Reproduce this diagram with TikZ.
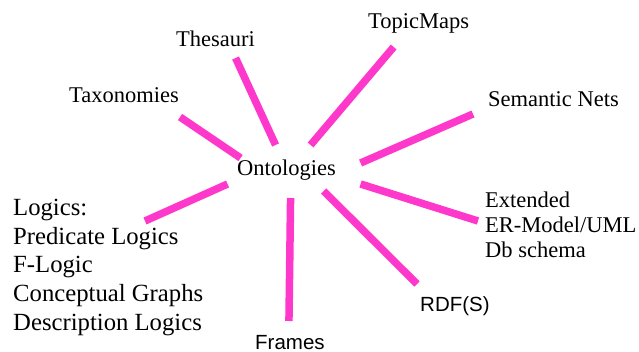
\documentclass[tikz,border=0pt]{standalone}
\usepackage{fontspec}
\setmainfont{Liberation Serif}
\setsansfont{Liberation Sans}
\usetikzlibrary{positioning}
\definecolor{mpink}{RGB}{255,56,204}
\tikzset{
  % Serif label
  TL/.style={inner sep=0pt,anchor=base west,align=left,
             font=\fontsize{22.5}{28.5}\selectfont},
  % Sans label
  SL/.style={inner sep=0pt,anchor=base west,
             font=\sffamily\fontsize{20.5}{25}\selectfont},
  % Thick pink spoke
  Spoke/.style={line width=7.5pt,color=mpink},
}
\begin{document}
\begin{tikzpicture}[x=1pt,y=-1pt]
  \useasboundingbox (0,0) rectangle (639,352);
  % hub
  \node[TL] at (237,176) (onto) {Ontologies};
  % outer labels (multi-line ones sit on their last line)
  \node[TL] at (176,47)  (thes)  {Thesauri};
  \node[TL] at (69,103)  (tax)   {Taxonomies};
  \node[TL] at (368,29)  (topic) {TopicMaps};
  \node[TL] at (488,107) (sem)   {Semantic Nets};
  \node[TL,font=\fontsize{22.5}{25}\selectfont]
        at (485,258) (ext)
        {Extended\\ER-Model/UML\\Db schema};
  \node[SL] at (420,311) (rdf)    {RDF(S)};
  \node[SL] at (255,349) (frames) {Frames};
  \node[TL,font=\fontsize{24.7}{28.6}\selectfont] at (13,330)  (logic)
        {Logics:\\Predicate Logics\\F-Logic\\Conceptual Graphs\\Description Logics};
  % spokes
  \draw[Spoke] ([shift={(-46,-18)}]onto.base) -- ([shift={(1,14)}]tax.base east);
  \draw[Spoke] ([shift={(-11,-31)}]onto.base) -- ([shift={(20,11)}]thes.base);
  \draw[Spoke] ([shift={(24,-31)}]onto.base)  -- ([shift={(-25,18)}]topic.base);
  \draw[Spoke] ([shift={(74,-13)}]onto.base)  -- ([shift={(-15,7)}]sem.base west);
  \draw[Spoke] ([shift={(74,8)}]onto.base)    -- ([shift={(-7,-37)}]ext.base west);
  \draw[Spoke] ([shift={(37,15)}]onto.base)   -- ([shift={(-3,-27)}]rdf.base west);
  \draw[Spoke] ([shift={(4,22)}]onto.base)    -- ([shift={(-1,-28)}]frames.base);
  \draw[Spoke] ([shift={(-59,8)}]onto.base)   -- ([shift={(132,-109)}]logic.base west);
\end{tikzpicture}
\end{document}
